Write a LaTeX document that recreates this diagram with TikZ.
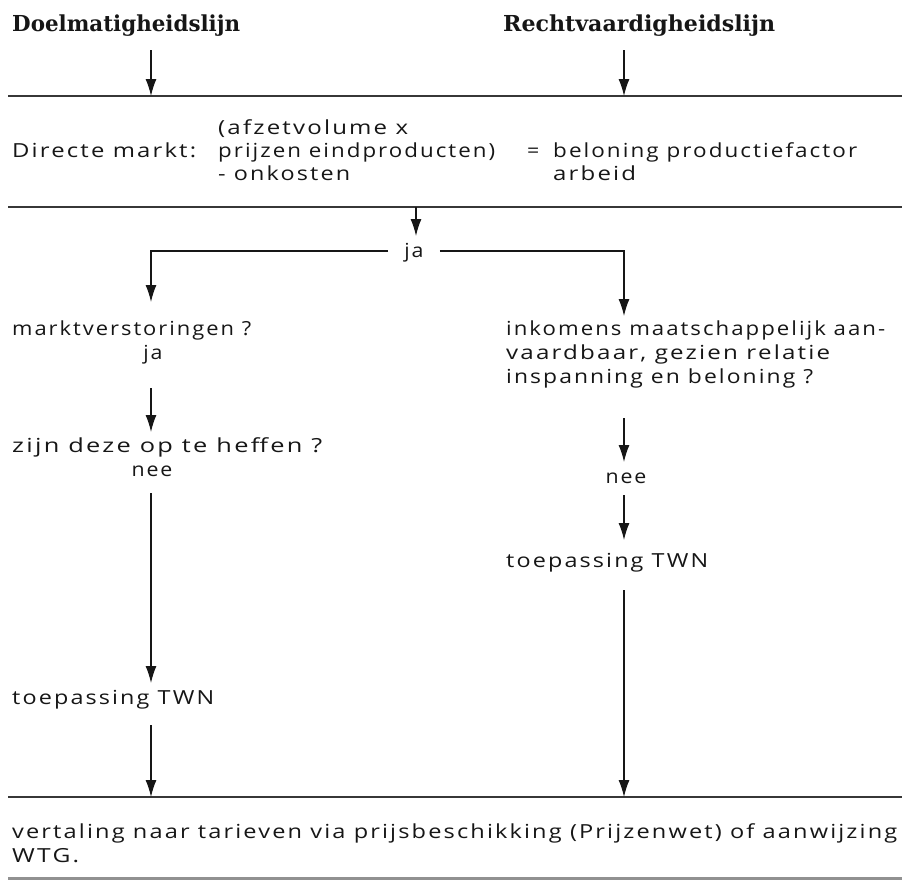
\documentclass[tikz,border=0pt]{standalone}
\usepackage{fontspec}
\setmainfont[LetterSpace=10,FakeStretch=1.1]{Open Sans}
\newfontfamily\headfont{DejaVu Serif}
\usetikzlibrary{arrows.meta}
\definecolor{ink}{RGB}{22,22,22}
\definecolor{rulec}{RGB}{55,55,55}
\newcommand\fitto[2]{\resizebox{#1}{\height}{#2}}
\begin{document}
\begin{tikzpicture}[x=1pt,y=-1pt,
  txt/.style={anchor=base west,inner sep=0pt,font=\fontsize{19.4}{24}\selectfont,text=ink},
  ctxt/.style={anchor=base,inner sep=0pt,font=\fontsize{19.4}{24}\selectfont,text=ink},
  head/.style={anchor=base west,inner sep=0pt,text=ink,font=\headfont\fontsize{22}{24}\selectfont\bfseries},
  arr/.style={draw=ink,line width=1.2pt,-{Latex[length=17pt,width=11pt]}},
  rule/.style={draw=rulec,line width=2pt}]
\useasboundingbox (0,0) rectangle (902,881);
% headings
\node[head] (doel) at (12,31) {\fitto{228pt}{Doelmatigheidslijn}};
\node[head] (recht) at (503,31) {\fitto{272pt}{Rechtvaardigheidslijn}};
% rules
\coordinate (r1l) at (8,96);   \coordinate (r1r) at (902,96);
\coordinate (r2l) at (8,207);  \coordinate (r2r) at (902,207);
\coordinate (r3l) at (8,797);  \coordinate (r3r) at (902,797);
\coordinate (r4l) at (8,878);  \coordinate (r4r) at (902,878);
\draw[rule] (r1l) -- (r1r);
\draw[rule] (r2l) -- (r2r);
\draw[rule] (r3l) -- (r3r);
\draw[rule,draw=rulec!55,line width=3pt] (r4l) -- (r4r);
% top arrows
\coordinate (a1s) at (151,50); \coordinate (a1e) at (151,96);
\coordinate (a2s) at (624,50); \coordinate (a2e) at (624,96);
\draw[arr] (a1s) -- (a1e);
\draw[arr] (a2s) -- (a2e);
% directe markt
\node[txt] (dm) at (12,157) {\fitto{184pt}{Directe markt:}};
\node[txt] (f1) at (218,134) {\fitto{190pt}{(afzetvolume x}};
\node[txt] (f2) at (218,157) {\fitto{277pt}{prijzen eindproducten)}};
\node[txt] (f3) at (218,180) {\fitto{132pt}{- onkosten}};
\node[txt] (eq) at (527,157) {=};
\node[txt] (b1) at (553,157) {\fitto{304pt}{beloning productiefactor}};
\node[txt] (b2) at (553,180) {\fitto{83pt}{arbeid}};
% ja split
\coordinate (a3s) at (416,207);
\node[ctxt,inner xsep=16pt] (ja) at (414,257) {ja};
\coordinate (a3e) at (416,236);
\draw[arr] (a3s) -- (a3e);
\coordinate (jl) at (151,251); \coordinate (jr) at (624,251);
\coordinate (mve) at (151,302); \coordinate (ine) at (624,316);
\draw[arr] (ja.west |- jl) -- (jl) -- (mve);
\draw[arr] (ja.east |- jr) -- (jr) -- (ine);
% left column
\node[txt] (mv) at (12,335) {\fitto{239pt}{marktverstoringen ?}};
\node[ctxt] (ja2) at (153,359) {ja};
\coordinate (a4s) at (151,388); \coordinate (a4e) at (151,432);
\draw[arr] (a4s) -- (a4e);
\node[txt] (zd) at (12,452) {\fitto{310pt}{zijn deze op te heffen ?}};
\node[ctxt] (nee1) at (152,476) {nee};
\coordinate (a5s) at (151,493); \coordinate (a5e) at (151,683);
\draw[arr] (a5s) -- (a5e);
\node[txt] (tl) at (12,704) {\fitto{202pt}{toepassing TWN}};
\coordinate (a6s) at (151,725); \coordinate (a6e) at (151,797);
\draw[arr] (a6s) -- (a6e);
% right column
\node[txt] (in1) at (506,335) {\fitto{379pt}{inkomens maatschappelijk aan-}};
\node[txt] (in2) at (506,359) {\fitto{324pt}{vaardbaar, gezien relatie}};
\node[txt] (in3) at (506,383) {\fitto{307pt}{inspanning en beloning ?}};
\coordinate (a7s) at (624,418); \coordinate (a7e) at (624,462);
\draw[arr] (a7s) -- (a7e);
\node[ctxt] (nee2) at (626,483) {nee};
\coordinate (a8s) at (624,495); \coordinate (a8e) at (624,540);
\draw[arr] (a8s) -- (a8e);
\node[txt] (tr) at (506,567) {\fitto{202pt}{toepassing TWN}};
\coordinate (a9s) at (624,590); \coordinate (a9e) at (624,797);
\draw[arr] (a9s) -- (a9e);
% bottom
\node[txt] (v1) at (12,838) {\fitto{885pt}{vertaling naar tarieven via prijsbeschikking (Prijzenwet) of aanwijzing}};
\node[txt] (v2) at (12,862) {\fitto{67pt}{WTG.}};
\end{tikzpicture}
\end{document}
